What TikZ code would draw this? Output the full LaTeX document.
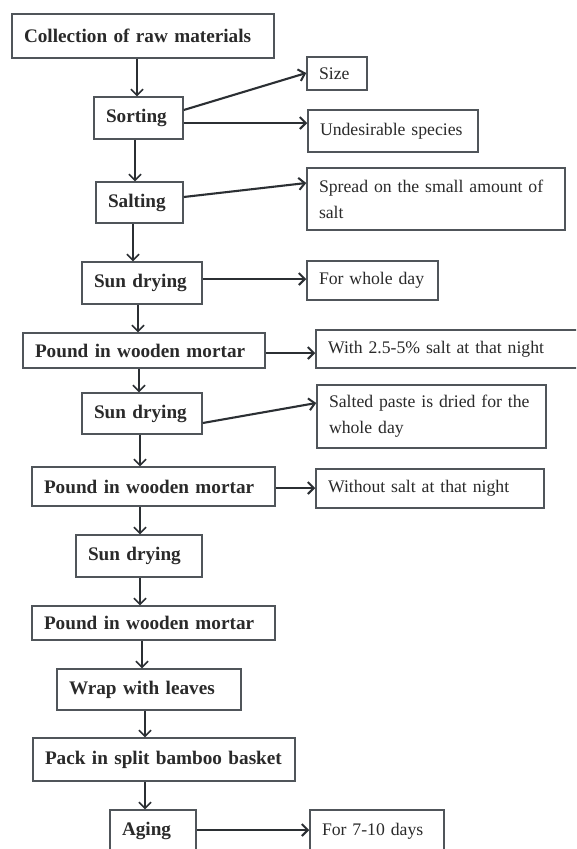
\documentclass[tikz,border=0pt]{standalone}
\usepackage{fontspec}
\setmainfont{Liberation Serif}
\usetikzlibrary{arrows.meta}
\definecolor{boxline}{HTML}{50555A}
\definecolor{arrline}{HTML}{2B2F33}
\definecolor{txt}{HTML}{2A2A2A}
\tikzset{
  stepbox/.style={draw=boxline, line width=1.5pt, fill=white, text=txt,
    inner xsep=12pt, inner ysep=0pt, align=left,
    font=\fontsize{19.2}{23}\selectfont\bfseries},
  notebox/.style={draw=boxline, line width=1.5pt, fill=white, text=txt,
    inner xsep=12pt, inner ysep=0pt, align=left,
    font=\fontsize{17.7}{26}\selectfont},
  varr/.style={draw=arrline, line width=1.5pt,
    -{Straight Barb[length=6pt,width=12pt,line width=1.5pt]}},
  harr/.style={draw=arrline, line width=2.1pt,
    -{Straight Barb[length=6pt,width=12pt,line width=2pt]}},
}
\newcommand{\bx}[7]{% style, name, cx, cy, w, h, text
  \node[#1, minimum width=#5pt, minimum height=#6pt, text width=#5pt-24pt] (#2) at (#3,#4) {#7};}
\begin{document}
\begin{tikzpicture}[x=1pt,y=-1pt]
\useasboundingbox (0,0) rectangle (576,849);
\clip (0,0) rectangle (576,849);
\fill[white] (0,0) rectangle (576,849);
% main steps
\bx{stepbox}{coll}{143}{36}{262}{44}{Collection of raw materials}
\bx{stepbox}{sort}{138.5}{118}{89}{42}{Sorting}
\bx{stepbox}{salt}{139.5}{202.5}{87}{41}{Salting}
\bx{stepbox}{sunA}{142}{283}{120}{42}{Sun drying}
\bx{stepbox}{poundA}{144}{350.5}{242}{35}{Pound in wooden mortar}
\bx{stepbox}{sunB}{142}{413.5}{120}{41}{Sun drying}
\bx{stepbox}{poundB}{153.5}{486.5}{243}{39}{Pound in wooden mortar}
\bx{stepbox}{sunC}{139}{556}{126}{42}{Sun drying}
\bx{stepbox}{poundC}{153.5}{623}{243}{34}{Pound in wooden mortar}
\bx{stepbox}{wrap}{149}{689.5}{184}{41}{Wrap with leaves}
\bx{stepbox}{pack}{164}{759.5}{262}{43}{Pack in split bamboo basket}
\bx{stepbox}{aging}{153}{831}{86}{42}{Aging}
% notes
\bx{notebox}{size}{337}{73.5}{60}{33}{Size}
\bx{notebox}{undes}{393}{131}{170}{42}{Undesirable species}
\bx{notebox}{spread}{436}{199}{258}{62}{Spread on the small amount of\\salt}
\bx{notebox}{whole}{372.5}{280.5}{131}{39}{For whole day}
\bx{notebox}{with}{458}{349}{284}{38}{With 2.5-5\% salt at that night}
\bx{notebox}{salted}{431.5}{416.5}{229}{63}{Salted paste is dried for the\\whole day}
\bx{notebox}{without}{430}{488.5}{228}{39}{Without salt at that night}
\bx{notebox}{days}{377}{831}{134}{42}{For 7-10 days}
% vertical connectors
\draw[varr] (137,0 |- coll.south) -- (137,0 |- sort.north);
\draw[varr] (135,0 |- sort.south) -- (135,0 |- salt.north);
\draw[varr] (133,0 |- salt.south) -- (133,0 |- sunA.north);
\draw[varr] (138,0 |- sunA.south) -- (138,0 |- poundA.north);
\draw[varr] (139,0 |- poundA.south) -- (139,0 |- sunB.north);
\draw[varr] (140,0 |- sunB.south) -- (140,0 |- poundB.north);
\draw[varr] (140,0 |- poundB.south) -- (140,0 |- sunC.north);
\draw[varr] (140,0 |- sunC.south) -- (140,0 |- poundC.north);
\draw[varr] (142,0 |- poundC.south) -- (142,0 |- wrap.north);
\draw[varr] (145,0 |- wrap.south) -- (145,0 |- pack.north);
\draw[varr] (145,0 |- pack.south) -- (145,0 |- aging.north);
% side connectors
\draw[harr] (sort.east |- 0,110) -- (size.west |- 0,73);
\draw[harr] (sort.east |- 0,123) -- (undes.west |- 0,123);
\draw[harr] (salt.east |- 0,197) -- (spread.west |- 0,183);
\draw[harr] (sunA.east |- 0,279) -- (whole.west |- 0,279);
\draw[harr] (poundA.east |- 0,353) -- (with.west |- 0,353);
\draw[harr] (sunB.east |- 0,423) -- (salted.west |- 0,403);
\draw[harr] (poundB.east |- 0,488) -- (without.west |- 0,488);
\draw[harr] (aging.east |- 0,830) -- (days.west |- 0,830);
\end{tikzpicture}
\end{document}
